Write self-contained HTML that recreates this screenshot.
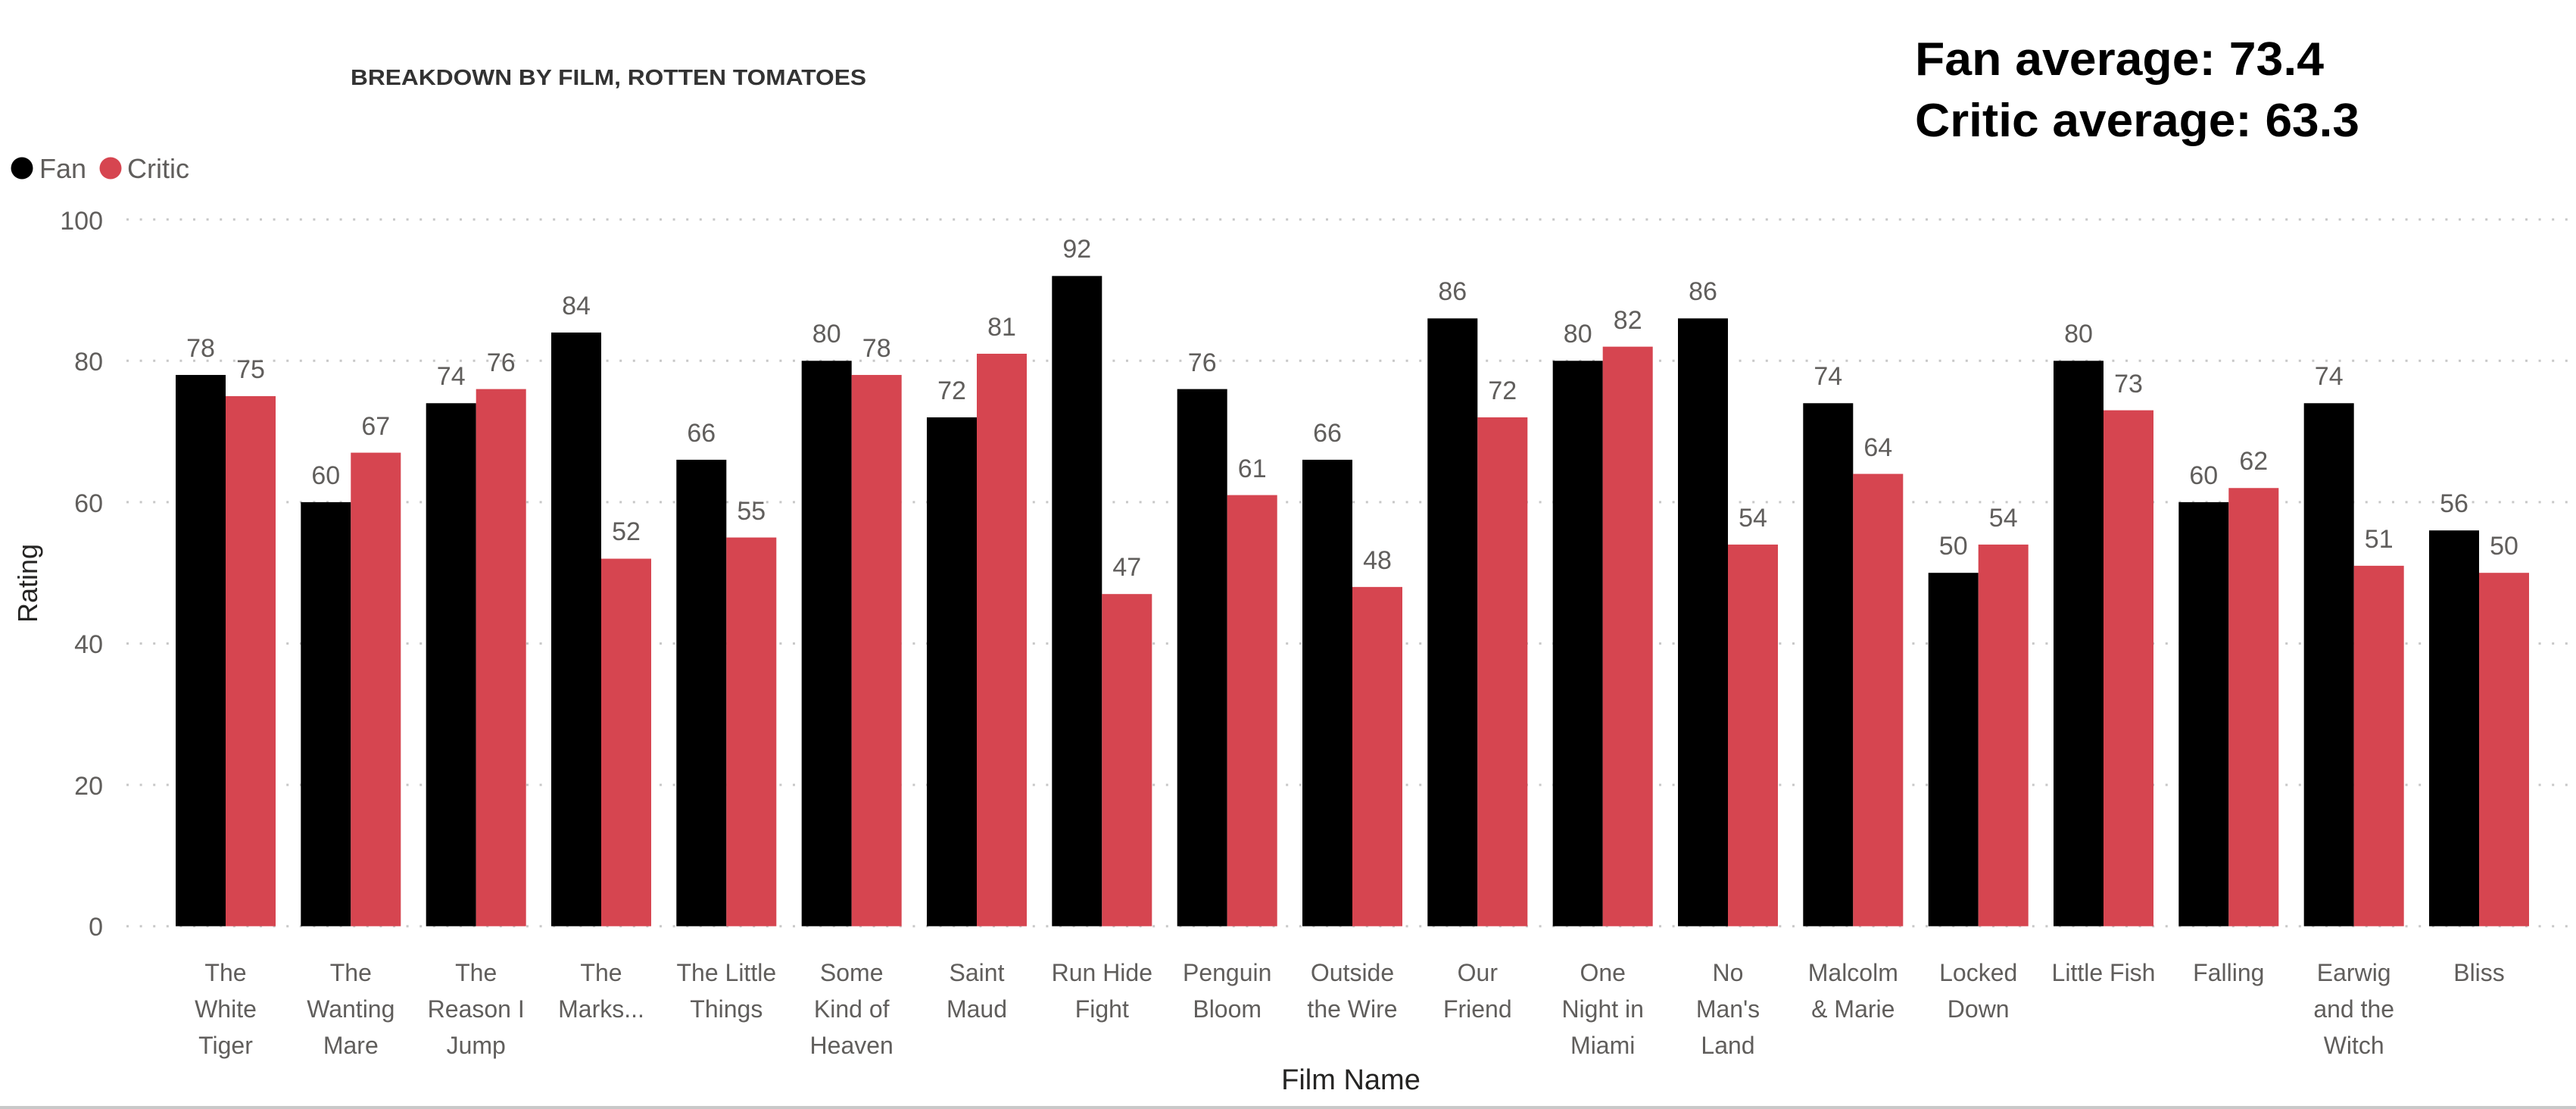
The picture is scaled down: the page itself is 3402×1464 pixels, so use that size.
<!DOCTYPE html>
<html><head><meta charset="utf-8"><style>
html,body{margin:0;padding:0;background:#fff;}
svg{display:block;}
text{font-family:"Liberation Sans",sans-serif;}
.d{font-size:34px;fill:#605E5C;text-anchor:middle;}
.t{font-size:34px;fill:#605E5C;text-anchor:end;}
.c{font-size:32px;fill:#605E5C;text-anchor:middle;}
.g{stroke:#c8c8c8;stroke-width:3;stroke-dasharray:3 14.6;}
</style></head><body>
<svg width="3402" height="1464" viewBox="0 0 3402 1464" xmlns="http://www.w3.org/2000/svg">
<rect width="3402" height="1464" fill="#fff"/>
<text x="463" y="112" font-size="29" font-weight="bold" fill="#333" textLength="681" lengthAdjust="spacingAndGlyphs">BREAKDOWN BY FILM, ROTTEN TOMATOES</text>
<text x="2529" y="99" font-size="62" font-weight="bold" fill="#000" textLength="540" lengthAdjust="spacingAndGlyphs">Fan average: 73.4</text>
<text x="2529" y="180" font-size="62" font-weight="bold" fill="#000" textLength="587" lengthAdjust="spacingAndGlyphs">Critic average: 63.3</text>
<circle cx="29" cy="222" r="14.5" fill="#000"/>
<text x="52" y="235" font-size="36" fill="#605E5C">Fan</text>
<circle cx="146" cy="222" r="14.5" fill="#D64550"/>
<text x="168" y="235" font-size="36" fill="#605E5C">Critic</text>
<g>
<line class="g" x1="167" x2="3400" y1="289.7" y2="289.7"/>
<line class="g" x1="167" x2="3400" y1="476.3" y2="476.3"/>
<line class="g" x1="167" x2="3400" y1="662.9" y2="662.9"/>
<line class="g" x1="167" x2="3400" y1="849.5" y2="849.5"/>
<line class="g" x1="167" x2="3400" y1="1036.1" y2="1036.1"/>
<line class="g" x1="167" x2="3400" y1="1222.7" y2="1222.7"/>
</g>
<text class="t" x="136" y="303">100</text>
<text class="t" x="136" y="489">80</text>
<text class="t" x="136" y="676">60</text>
<text class="t" x="136" y="862">40</text>
<text class="t" x="136" y="1049">20</text>
<text class="t" x="136" y="1235">0</text>
<text transform="translate(49,770) rotate(-90)" font-size="36" fill="#252423" text-anchor="middle">Rating</text>
<text x="1784" y="1438" font-size="38" fill="#252423" text-anchor="middle">Film Name</text>
<g transform="translate(0,1222.7) scale(1,-9.33)">
<rect x="232" width="66" height="78" fill="#000"/><rect x="298" width="66" height="75" fill="#D64550"/>
<rect x="397.3" width="66" height="60" fill="#000"/><rect x="463.3" width="66" height="67" fill="#D64550"/>
<rect x="562.7" width="66" height="74" fill="#000"/><rect x="628.7" width="66" height="76" fill="#D64550"/>
<rect x="728" width="66" height="84" fill="#000"/><rect x="794" width="66" height="52" fill="#D64550"/>
<rect x="893.3" width="66" height="66" fill="#000"/><rect x="959.3" width="66" height="55" fill="#D64550"/>
<rect x="1058.7" width="66" height="80" fill="#000"/><rect x="1124.7" width="66" height="78" fill="#D64550"/>
<rect x="1224" width="66" height="72" fill="#000"/><rect x="1290" width="66" height="81" fill="#D64550"/>
<rect x="1389.3" width="66" height="92" fill="#000"/><rect x="1455.3" width="66" height="47" fill="#D64550"/>
<rect x="1554.7" width="66" height="76" fill="#000"/><rect x="1620.7" width="66" height="61" fill="#D64550"/>
<rect x="1720" width="66" height="66" fill="#000"/><rect x="1786" width="66" height="48" fill="#D64550"/>
<rect x="1885.3" width="66" height="86" fill="#000"/><rect x="1951.3" width="66" height="72" fill="#D64550"/>
<rect x="2050.7" width="66" height="80" fill="#000"/><rect x="2116.7" width="66" height="82" fill="#D64550"/>
<rect x="2216" width="66" height="86" fill="#000"/><rect x="2282" width="66" height="54" fill="#D64550"/>
<rect x="2381.3" width="66" height="74" fill="#000"/><rect x="2447.3" width="66" height="64" fill="#D64550"/>
<rect x="2546.7" width="66" height="50" fill="#000"/><rect x="2612.7" width="66" height="54" fill="#D64550"/>
<rect x="2712" width="66" height="80" fill="#000"/><rect x="2778" width="66" height="73" fill="#D64550"/>
<rect x="2877.3" width="66" height="60" fill="#000"/><rect x="2943.3" width="66" height="62" fill="#D64550"/>
<rect x="3042.7" width="66" height="74" fill="#000"/><rect x="3108.7" width="66" height="51" fill="#D64550"/>
<rect x="3208" width="66" height="56" fill="#000"/><rect x="3274" width="66" height="50" fill="#D64550"/>
</g>
<g>
<text class="d" x="265" y="471">78</text><text class="d" x="331" y="499">75</text>
<text class="d" x="430.3" y="639">60</text><text class="d" x="496.3" y="574">67</text>
<text class="d" x="595.7" y="508">74</text><text class="d" x="661.7" y="490">76</text>
<text class="d" x="761" y="415">84</text><text class="d" x="827" y="713">52</text>
<text class="d" x="926.3" y="583">66</text><text class="d" x="992.3" y="686">55</text>
<text class="d" x="1091.7" y="452">80</text><text class="d" x="1157.7" y="471">78</text>
<text class="d" x="1257" y="527">72</text><text class="d" x="1323" y="443">81</text>
<text class="d" x="1422.3" y="340">92</text><text class="d" x="1488.3" y="760">47</text>
<text class="d" x="1587.7" y="490">76</text><text class="d" x="1653.7" y="630">61</text>
<text class="d" x="1753" y="583">66</text><text class="d" x="1819" y="751">48</text>
<text class="d" x="1918.3" y="396">86</text><text class="d" x="1984.3" y="527">72</text>
<text class="d" x="2083.7" y="452">80</text><text class="d" x="2149.7" y="434">82</text>
<text class="d" x="2249" y="396">86</text><text class="d" x="2315" y="695">54</text>
<text class="d" x="2414.3" y="508">74</text><text class="d" x="2480.3" y="602">64</text>
<text class="d" x="2579.7" y="732">50</text><text class="d" x="2645.7" y="695">54</text>
<text class="d" x="2745" y="452">80</text><text class="d" x="2811" y="518">73</text>
<text class="d" x="2910.3" y="639">60</text><text class="d" x="2976.3" y="620">62</text>
<text class="d" x="3075.7" y="508">74</text><text class="d" x="3141.7" y="723">51</text>
<text class="d" x="3241" y="676">56</text><text class="d" x="3307" y="732">50</text>
</g>
<g>
<text class="c" x="298" y="1295">The</text><text class="c" x="298" y="1343">White</text><text class="c" x="298" y="1391">Tiger</text>
<text class="c" x="463.3" y="1295">The</text><text class="c" x="463.3" y="1343">Wanting</text><text class="c" x="463.3" y="1391">Mare</text>
<text class="c" x="628.7" y="1295">The</text><text class="c" x="628.7" y="1343">Reason I</text><text class="c" x="628.7" y="1391">Jump</text>
<text class="c" x="794" y="1295">The</text><text class="c" x="794" y="1343">Marks...</text>
<text class="c" x="959.3" y="1295">The Little</text><text class="c" x="959.3" y="1343">Things</text>
<text class="c" x="1124.7" y="1295">Some</text><text class="c" x="1124.7" y="1343">Kind of</text><text class="c" x="1124.7" y="1391">Heaven</text>
<text class="c" x="1290" y="1295">Saint</text><text class="c" x="1290" y="1343">Maud</text>
<text class="c" x="1455.3" y="1295">Run Hide</text><text class="c" x="1455.3" y="1343">Fight</text>
<text class="c" x="1620.7" y="1295">Penguin</text><text class="c" x="1620.7" y="1343">Bloom</text>
<text class="c" x="1786" y="1295">Outside</text><text class="c" x="1786" y="1343">the Wire</text>
<text class="c" x="1951.3" y="1295">Our</text><text class="c" x="1951.3" y="1343">Friend</text>
<text class="c" x="2116.7" y="1295">One</text><text class="c" x="2116.7" y="1343">Night in</text><text class="c" x="2116.7" y="1391">Miami</text>
<text class="c" x="2282" y="1295">No</text><text class="c" x="2282" y="1343">Man's</text><text class="c" x="2282" y="1391">Land</text>
<text class="c" x="2447.3" y="1295">Malcolm</text><text class="c" x="2447.3" y="1343">&amp; Marie</text>
<text class="c" x="2612.7" y="1295">Locked</text><text class="c" x="2612.7" y="1343">Down</text>
<text class="c" x="2778" y="1295">Little Fish</text>
<text class="c" x="2943.3" y="1295">Falling</text>
<text class="c" x="3108.7" y="1295">Earwig</text><text class="c" x="3108.7" y="1343">and the</text><text class="c" x="3108.7" y="1391">Witch</text>
<text class="c" x="3274" y="1295">Bliss</text>
</g>
<rect x="0" y="1460" width="3402" height="4" fill="#c8c8c8"/>
</svg>
</body></html>
